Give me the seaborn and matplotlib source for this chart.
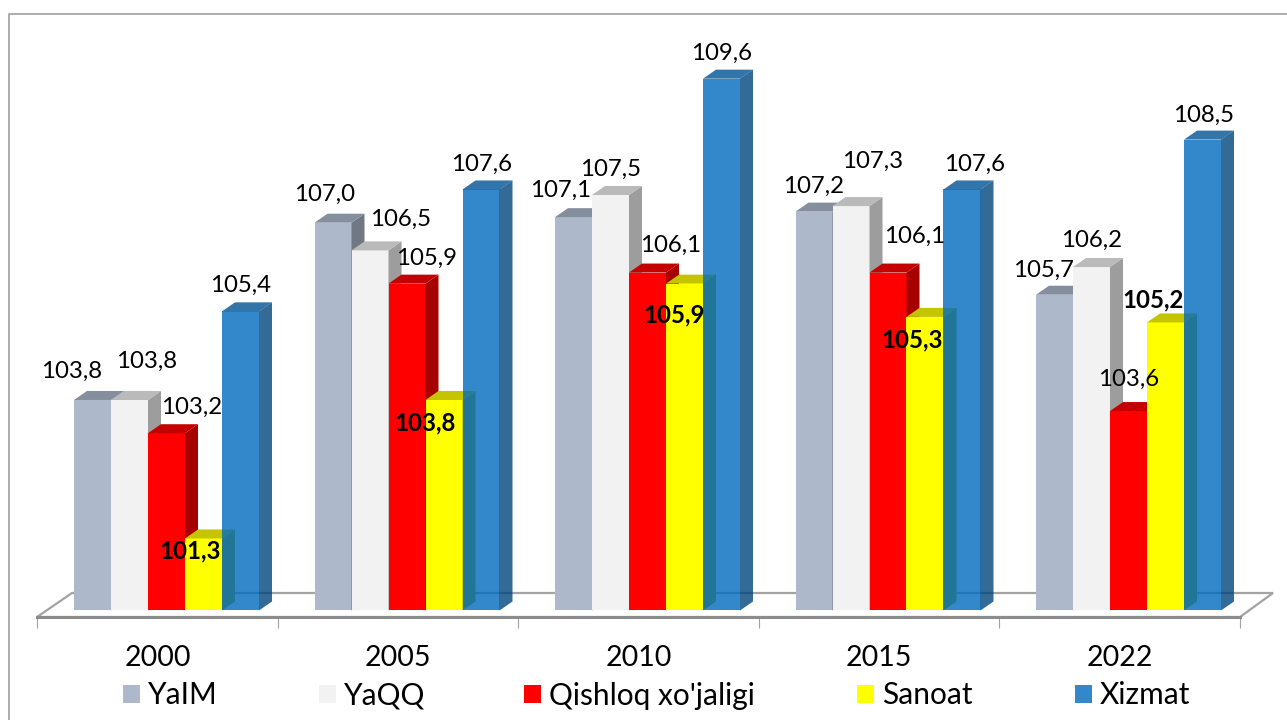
import pandas as pd
import numpy as np
import matplotlib
matplotlib.use('Agg')
import matplotlib.pyplot as plt
import seaborn as sns
from matplotlib.lines import Line2D
from matplotlib.patches import Polygon
from matplotlib.colors import to_rgb

# data
years = ['2000', '2005', '2010', '2015', '2022']
yaim = [103.8, 107.0, 107.1, 107.2, 105.7]
yaqq = [103.8, 106.5, 107.5, 107.3, 106.2]
qishloq = [103.2, 105.9, 106.1, 106.1, 103.6]
sanoat = [101.3, 103.8, 105.9, 105.3, 105.2]
xizmat = [105.4, 107.6, 109.6, 107.6, 108.5]

series_names = ['YaIM', 'YaQQ', "Qishloq xo'jaligi", 'Sanoat', 'Xizmat']
series_values = [yaim, yaqq, qishloq, sanoat, xizmat]
colors = ['#ADB9CA', '#F2F2F2', '#FF0000', '#FFFF00', '#006BBE']

df = pd.DataFrame({'Yil': years})
for name, vals in zip(series_names, series_values):
    df[name] = vals
long_df = df.melt(id_vars='Yil', var_name='Seriya', value_name='Qiymat')

# layout, in reference pixels
W, H = 1287, 720
GROUP_PX = 240.5
UNIT_PX = 55.4
X0_PX = 166.5      # centre of first group
Y0_PX = 610.5      # pixel of value 100
AX_L, AX_R, AX_T, AX_B = 37, 1240, 13, 617
DEPTH_X = 13 / GROUP_PX
DEPTH_Y = 9 / UNIT_PX
BASE_VALUE = 100

# manual label nudges in px from bar top centre (series by group)
label_nudges = [
    [(-20.5, 28.5), (-8, 28), (-12.5, 26.7), (0, 25), (-10.5, 24)],
    [(17.5, 38.5), (31, 31), (0.5, 25.5), (22, 44.6), (0.5, 26.5)],
    [(25.5, 25.7), (20, 25), (23.5, 27), (27, 36), (0.5, 31.6)],
    [(-13.5, -12), (-19, -22.5), (-10.5, -31), (-13, -22.6), (-12.5, 22)],
    [(0.5, 25.8), (1, 25), (0.5, 25), (13, 25), (1.5, 24)],
]

sns.set_theme(style='white')
plt.rcParams['font.family'] = ['Lato', 'DejaVu Sans']

fig = plt.figure(figsize=(W / 100, H / 100), dpi=100)
ax = fig.add_axes([AX_L / W, 1 - AX_B / H, (AX_R - AX_L) / W, (AX_B - AX_T) / H])
ax.patch.set_alpha(0)

sns.barplot(data=long_df, x='Yil', y='Qiymat', hue='Seriya', order=years,
            hue_order=series_names, palette=colors, saturation=1,
            width=185 / GROUP_PX, gap=0, errorbar=None, linewidth=0,
            legend=False, ax=ax)


def px_x(px):
    return (px - X0_PX) / GROUP_PX


def px_y(py):
    return BASE_VALUE + (Y0_PX - py) / UNIT_PX


ax.set_xlim(px_x(AX_L), px_x(AX_R))
ax.set_ylim(px_y(AX_B), px_y(AX_T))

# floor
floor = [(37, 617), (72, 593), (1273, 593), (1240, 617)]
ax.add_patch(Polygon([(px_x(a), px_y(b)) for a, b in floor], closed=True, fc='none',
                     ec='#a3a3a3', lw=1.6, clip_on=False, zorder=1))

# fake 3d: side and top face for every bar, bars stand on the floor at 100
for i, container in enumerate(ax.containers):
    alpha = 0.8 if series_names[i] == 'Xizmat' else 1
    base = np.array(to_rgb(colors[i]))
    for g, bar in enumerate(container):
        top = bar.get_y() + bar.get_height()
        bar.set_y(BASE_VALUE)
        bar.set_height(top - BASE_VALUE)
        bar.set_zorder(3 + i)
        bar.set_alpha(alpha)
        x0 = bar.get_x()
        x1 = x0 + bar.get_width()
        side = [(x1, BASE_VALUE), (x1 + DEPTH_X, BASE_VALUE + DEPTH_Y),
                (x1 + DEPTH_X, top + DEPTH_Y), (x1, top)]
        roof = [(x0, top), (x0 + DEPTH_X, top + DEPTH_Y),
                (x1 + DEPTH_X, top + DEPTH_Y), (x1, top)]
        ax.add_patch(Polygon(side, closed=True, fc=base * 0.65, ec='none',
                             alpha=alpha, zorder=3 + i, clip_on=False))
        ax.add_patch(Polygon(roof, closed=True, fc=base * 0.77, ec='none',
                             alpha=alpha, zorder=3 + i, clip_on=False))

        value = series_values[i][g]
        dx, dy = label_nudges[i][g]
        bold = series_names[i] == 'Sanoat'
        ax.annotate(f'{value:.1f}'.replace('.', ','), ((x0 + x1) / 2, top),
                    xytext=(dx * 0.72, dy * 0.72), textcoords='offset points',
                    ha='center', va='center', fontsize=17.3, color='black',
                    fontweight='bold' if bold else 'normal', zorder=20,
                    annotation_clip=False)

# axis
ax.set_xlabel('')
ax.set_ylabel('')
ax.set_yticks([])
ax.set_xticks([i - 9 / GROUP_PX for i in range(len(years))], years, fontsize=20.5, color='black')
ax.set_xticks([px_x(AX_L + i * (AX_R - AX_L) / len(years)) for i in range(len(years) + 1)], minor=True)
ax.tick_params(axis='x', which='major', length=0, pad=20.5)
ax.tick_params(axis='x', which='minor', length=8, width=0.8, color='#a3a3a3', bottom=True)
for s in ['top', 'left', 'right']:
    ax.spines[s].set_visible(False)
ax.spines['bottom'].set_color('#8c8c8c')
ax.spines['bottom'].set_linewidth(2.2)

# legend entries are not evenly spaced in the original
legend_px = [123, 319, 524, 857, 1075]
for i, px in enumerate(legend_px):
    fs = 21.5
    em = fs / 0.72
    leg = fig.legend([ax.containers[i][0]], [series_names[i]], loc='center left',
                     bbox_to_anchor=(px / W, 1 - 695.5 / H), frameon=False, fontsize=fs,
                     borderpad=0, borderaxespad=0, handlelength=17 / em, handleheight=17 / em,
                     handletextpad=8 / em, labelcolor='black')

# outer frame
fig.add_artist(Line2D([8.5 / W, 8.5 / W, 1], [0, 1 - 13.5 / H, 1 - 13.5 / H],
                      color='#a6a6a6', lw=1.3))

fig.savefig('out.png', dpi=100)
